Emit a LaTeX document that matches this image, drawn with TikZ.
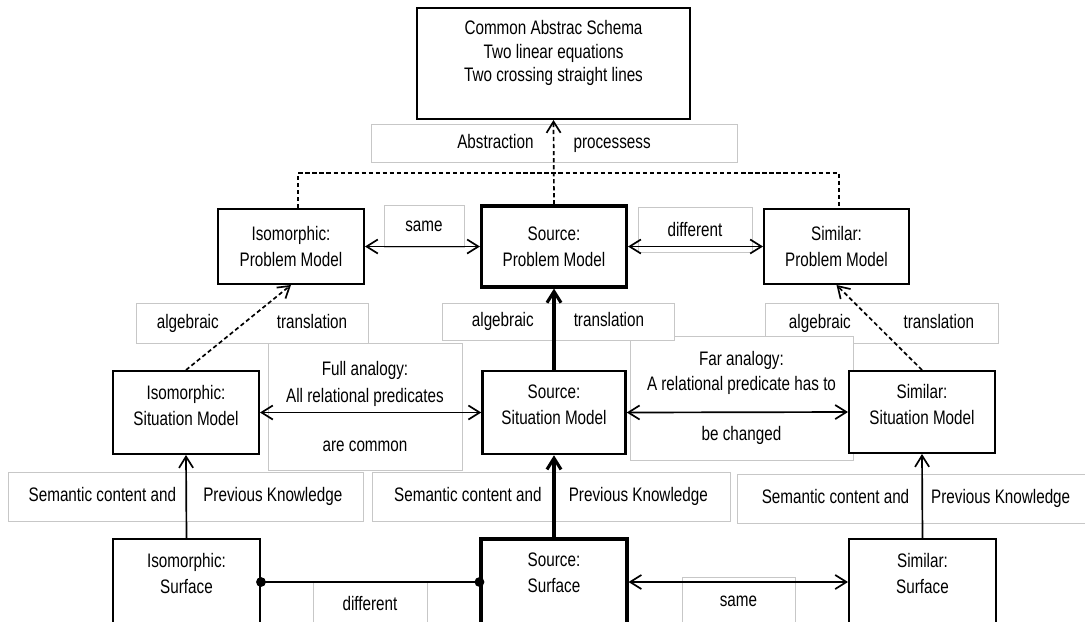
\documentclass[tikz,border=0pt]{standalone}
\usepackage{fontspec}
\setmainfont{Liberation Sans}[FakeStretch=0.78]
\usetikzlibrary{arrows.meta}
\newcommand{\padbelow}[1]{\\[#1]\mbox{}}
\tikzset{
  wh/.style 2 args={minimum width=#1*0.025cm, minimum height=#2*0.025cm},
  modelbox/.style={draw, line width=1.4pt, fill=white, align=center, inner sep=0pt,
    font=\fontsize{13.9}{18.4}\selectfont},
  srcbox/.style={modelbox, line width=2.2pt},
  tagbox/.style={draw=black!22, line width=0.7pt, fill=white, align=center, inner sep=0pt,
    font=\fontsize{13.9}{19}\selectfont},
  link/.style={line width=1.2pt},
  boldlink/.style={line width=2.2pt},
  dashlink/.style={link, dash pattern=on 3pt off 2pt},
  barb/.style={-{Straight Barb[length=8pt,width=10pt]}},
  twobarb/.style={{Straight Barb[length=8pt,width=10pt]}-{Straight Barb[length=8pt,width=10pt]}},
}

\begin{document}
\begin{tikzpicture}[x=0.025cm, y=-0.025cm]
  \useasboundingbox (0,0) rectangle (1085,621);
  \clip (0,0) rectangle (1085,621);
  \fill[white] (0,0) rectangle (1085,621);

  %%%%% LABEL BOXES %%%%%
  \node[tagbox, wh={366}{38}] (abstr) at (554,143) {Abstraction\hspace{1cm}processess};
  \node[tagbox, wh={80}{42}] (sameTop) at (424,226) {same};
  \node[tagbox, wh={114}{45}] (diffTop) at (695,229.5) {different};

  \node[tagbox, wh={194}{127}] (fullAn) at (365,406.5)
    {Full analogy:\\All relational predicates\\[16.3pt]are common};
  \node[tagbox, wh={232}{40}] (algLeft) at (252,323) {algebraic\hspace{1.45cm}translation};
  \node[tagbox, wh={233}{40}] (algRight) at (881.5,323) {algebraic\hspace{1.32cm}translation};
  \node[tagbox, wh={223}{124}, font=\fontsize{13.9}{17.7}\selectfont] (farAn) at (741.5,398)
    {Far analogy:\\A relational predicate has to\\[17.7pt]be changed};
  \node[tagbox, wh={232}{37}] (algMid) at (558,321.5) {algebraic\hspace{1cm}translation};

  \node[tagbox, wh={355}{49}] (semLeft) at (185.5,496.5)
    {Semantic content and\hspace{0.68cm}Previous Knowledge};
  \node[tagbox, wh={358}{49}] (semMid) at (551,496.5)
    {Semantic content and\hspace{0.68cm}Previous Knowledge};
  \node[tagbox, wh={358}{49}] (semRight) at (916,498.5)
    {Semantic content and\hspace{0.55cm}Previous Knowledge};

  \node[tagbox, wh={114}{44}] (diffBot) at (370,603) {different};
  \node[tagbox, wh={113}{48}] (sameBot) at (738.5,601) {same};

  %%%%% MODELS %%%%%
  \node[modelbox, wh={273}{111}, font=\fontsize{13.9}{16.7}\selectfont] (schema) at (553.5,63.5)
    {Common Abstrac Schema\\Two linear equations\\Two crossing straight lines\padbelow{1pt}};

  \node[modelbox, wh={146}{75}] (isoPM) at (291,246.5) {Isomorphic:\\Problem Model};
  \node[srcbox, wh={145}{81}] (srcPM) at (554,246.5) {Source:\\Problem Model};
  \node[modelbox, wh={145}{75}] (simPM) at (836.5,246.5) {Similar:\\Problem Model};

  \node[modelbox, wh={146}{83}] (isoSM) at (186,412.5) {Isomorphic:\\Situation Model\padbelow{-7.8pt}};
  \node[modelbox, line width=1.8pt, wh={143}{83}] (srcSM) at (554,412.5) {Source:\\Situation Model\padbelow{-7.8pt}};
  \node[modelbox, wh={146}{82}] (simSM) at (922,412) {Similar:\\Situation Model\padbelow{-7.8pt}};

  \node[modelbox, wh={147}{86}] (isoSF) at (186.5,582) {Isomorphic:\\Surface\padbelow{-5.7pt}};
  \node[srcbox, wh={146}{86}] (srcSF) at (554,582) {Source:\\Surface\padbelow{-5.7pt}};
  \node[modelbox, wh={147}{86}] (simSF) at (922.5,582) {Similar:\\Surface\padbelow{-5.7pt}};

  %%%%% CONNECTORS %%%%%
  \coordinate (absBar) at (554,173);
  \draw[dashlink, barb] (srcPM.north) -- (schema.south);
  \draw[dashlink] ([xshift=0.18cm]isoPM.north) |- (absBar) -| ([xshift=0.06cm]simPM.north);

  \draw[link, twobarb] (isoPM.east) -- (srcPM.west);
  \draw[link, twobarb] (srcPM.east) -- (simPM.west);

  \draw[dashlink, barb] (isoSM.north) -- (isoPM.south);
  \draw[boldlink, barb] (srcSM.north) -- (srcPM.south);
  \draw[dashlink, barb] (simSM.north) -- (simPM.south);

  \draw[link, twobarb] (isoSM.east) -- (srcSM.west);
  \draw[link, twobarb] (srcSM.east) -- (simSM.west);

  \draw[link, barb] (isoSF.north) -- (isoSM.south);
  \draw[boldlink, barb] (srcSF.north) -- (srcSM.south);
  \draw[link, barb] (simSF.north) -- (simSM.south);

  \draw[link] (isoSF.east) -- (srcSF.west);
  \fill (isoSF.east) circle[radius=3.5pt];
  \fill (srcSF.west) circle[radius=3.5pt];
  \draw[link, twobarb] (srcSF.east) -- (simSF.west);
\end{tikzpicture}
\end{document}
